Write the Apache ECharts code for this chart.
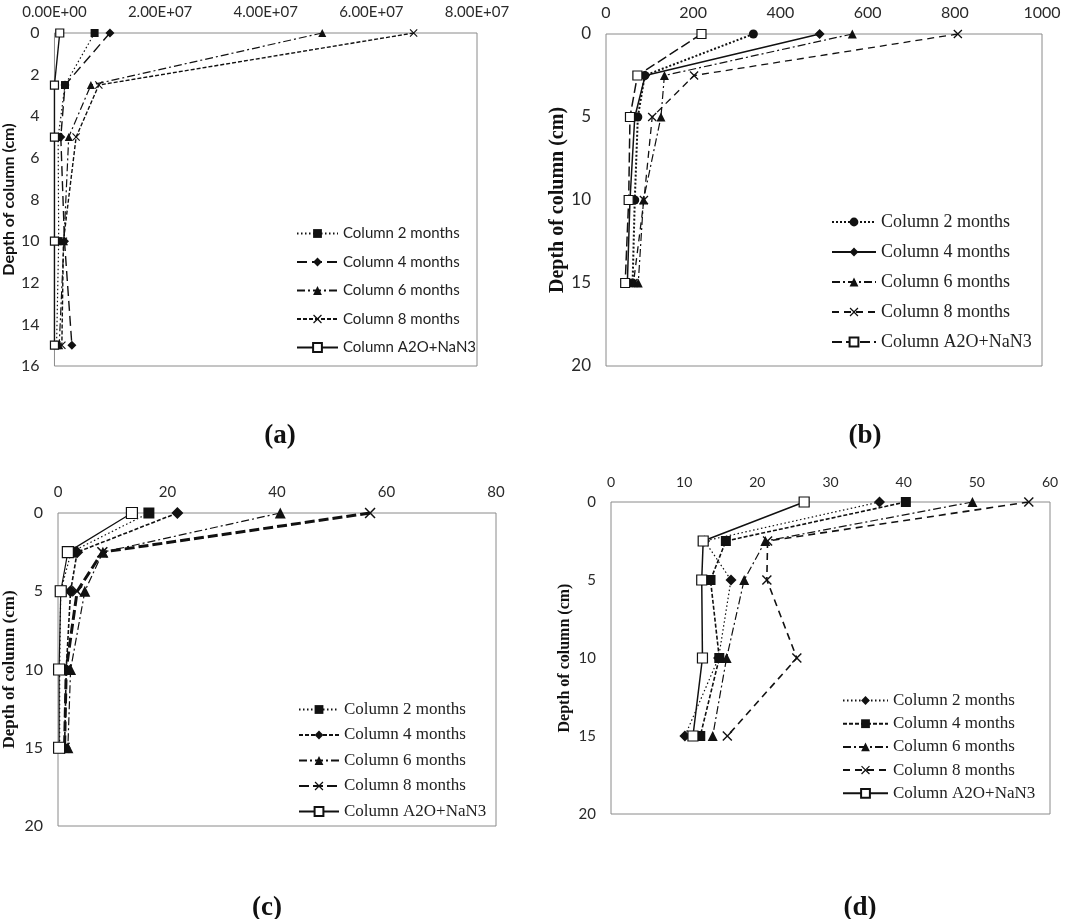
<!DOCTYPE html>
<html>
<head>
<meta charset="utf-8">
<script src="https://cdn.jsdelivr.net/npm/echarts@6/dist/echarts.min.js"></script>
<style>
  html, body { margin: 0; padding: 0; background: #fff; }
  #chart { width: 1080px; height: 919px; }
</style>
</head>
<body>
<div id="chart"></div>
<script>
// depth of the sampling points (cm), same for every panel
const depths = [0, 2.5, 5, 10, 15];
const seriesNames = ['Column 2 months', 'Column 4 months', 'Column 6 months', 'Column 8 months', 'Column A2O+NaN3'];

// panel (a): 2, 4, 6, 8 months, A2O+NaN3
const valuesA = [
  [7.6e6, 2.0e6, 0.7e6, 0.8e6, 0.4e6],
  [1.05e7, 2.0e6, 1.2e6, 1.9e6, 3.3e6],
  [5.07e7, 6.9e6, 2.7e6, 1.8e6, 0.9e6],
  [6.8e7, 8.4e6, 4.1e6, 1.7e6, 1.4e6],
  [1.0e6, 0, 0, 0, 0]
];
// panel (b)
const valuesB = [
  [338, 89, 73, 66, 61],
  [490, 90, 66, 55, 49],
  [565, 134, 126, 86, 74],
  [807, 202, 106, 87, 63],
  [219, 72, 55, 52, 44]
];
// panel (c)
const valuesC = [
  [16.6, 2.4, 0.5, 0.3, 0.3],
  [21.8, 3.5, 2.3, 1.5, 1.2],
  [40.6, 8.2, 4.9, 2.3, 1.8],
  [57.0, 8.1, 3.5, 1.5, 1.2],
  [13.5, 1.8, 0.5, 0.2, 0.2]
];
// panel (d)
const valuesD = [
  [36.7, 12.8, 16.4, 14.7, 10.1],
  [40.3, 15.7, 13.6, 14.8, 12.2],
  [49.4, 21.1, 18.2, 15.8, 13.9],
  [57.1, 21.4, 21.3, 25.4, 15.9],
  [26.4, 12.6, 12.4, 12.5, 11.2]
];

const xMax = [8e7, 1000, 80, 60];
const xStep = [2e7, 200, 20, 10];
const yMax = [16, 20, 20, 20];
const yStep = [2, 5, 5, 5];
const captions = ['(a)', '(b)', '(c)', '(d)'];

// layout + look of each panel
const X_SYM = 'path://M0,1L1,0L5,4L9,0L10,1L6,5L10,9L9,10L5,6L1,10L0,9L4,5Z';
const DOT = [1.5, 2.5], DASH = [6, 3], LDASH = [10, 5], DASHDOT = [8, 3, 2, 3];
const panels = [
  { values: valuesA, grid: { left: 46, top: 33, width: 431, height: 333 }, serif: false,
    symbols: ['rect', 'diamond', 'triangle', X_SYM, 'rect'], dashes: [DOT, LDASH, DASHDOT, [4, 2], 'solid'],
    widths: [1.2, 1.4, 1.2, 1.4, 1.4], symSize: 8,
    legend: { left: 291, top: 221, itemGap: 13.5, fontSize: 15, itemWidth: 41 },
    nameGap: 30, nameSize: 16, labelSize: 15, caption: [275, 431] },
  { values: valuesB, grid: { left: 606, top: 34, width: 436, height: 332 }, serif: true,
    symbols: ['circle', 'diamond', 'triangle', X_SYM, 'rect'], dashes: [[2, 2], 'solid', DASHDOT, [7, 5], [10, 4]],
    widths: [2, 1.5, 1.2, 1.3, 1.5], symSize: 9,
    legend: { left: 826, top: 208, itemGap: 12, fontSize: 18, itemWidth: 44 },
    nameGap: 38, nameSize: 20, labelSize: 16, caption: [860, 431] },
  { values: valuesC, grid: { left: 58, top: 513, width: 438, height: 313 }, serif: true,
    symbols: ['rect', 'diamond', 'triangle', X_SYM, 'rect'], dashes: [DOT, [4, 2], DASHDOT, [10, 4], 'solid'],
    widths: [1.2, 1.6, 1.2, 3, 1.2], symSize: 11,
    legend: { left: 293, top: 696, itemGap: 8.5, fontSize: 17, itemWidth: 40 },
    nameGap: 40, nameSize: 17, labelSize: 15, caption: [262, 903] },
  { values: valuesD, grid: { left: 611, top: 502, width: 439, height: 312 }, serif: true,
    symbols: ['diamond', 'rect', 'triangle', X_SYM, 'rect'], dashes: [DOT, [4, 2], DASHDOT, [7, 5], 'solid'],
    widths: [1.2, 1.6, 1.2, 1.6, 1.5], symSize: 10,
    legend: { left: 837, top: 687, itemGap: 6.2, fontSize: 17, itemWidth: 45 },
    nameGap: 38, nameSize: 16, labelSize: 14, caption: [855, 903] }
];

function sci(v) {
  if (v === 0) return '0.00E+00';
  const e = Math.floor(Math.log10(v));
  const m = v / Math.pow(10, e);
  return m.toFixed(2) + 'E+' + String(e).padStart(2, '0');
}

const grids = [], xAxes = [], yAxes = [], series = [], legends = [], titles = [];
panels.forEach((p, i) => {
  const font = p.serif ? 'Liberation Serif' : 'Lato';
  grids.push(Object.assign({ show: true, borderColor: '#8a8a8a', borderWidth: 1, backgroundColor: '#fff' }, p.grid));
  xAxes.push({
    gridIndex: i, type: 'value', position: 'top', min: 0, max: xMax[i], interval: xStep[i],
    axisLine: { show: false }, axisTick: { show: false }, splitLine: { show: false },
    axisLabel: { color: '#2a2a2a', fontFamily: 'Lato', fontSize: p.labelSize, margin: 13,
      formatter: i === 0 ? sci : (v => String(v)) }
  });
  yAxes.push({
    gridIndex: i, type: 'value', inverse: true, min: 0, max: yMax[i], interval: yStep[i],
    axisLine: { show: false }, axisTick: { show: false }, splitLine: { show: false },
    axisLabel: { color: '#2a2a2a', fontFamily: 'Lato', fontSize: p.labelSize + 1, margin: 15 },
    name: 'Depth of column (cm)', nameLocation: 'middle', nameGap: p.nameGap,
    nameTextStyle: { fontFamily: p.serif ? 'Liberation Serif' : 'Lato', fontWeight: 'bold',
      fontSize: p.nameSize, color: '#111' }
  });
  const names = [];
  p.values.forEach((vals, k) => {
    const name = captions[i] + '|' + seriesNames[k];
    names.push(name);
    const open = k === 4;
    series.push({
      name: name, type: 'line', xAxisIndex: i, yAxisIndex: i,
      data: vals.map((v, j) => [v, depths[j]]),
      symbol: p.symbols[k], symbolSize: p.symbols[k] === 'diamond' ? p.symSize + 1 : p.symSize,
      showAllSymbol: true,
      lineStyle: { color: '#111', width: p.widths[k], type: p.dashes[k] },
      itemStyle: { color: open ? '#fff' : '#111', borderColor: '#111', borderWidth: open ? 1.2 : 0 },
      emphasis: { disabled: true },
      animation: false
    });
  });
  legends.push({
    data: names, orient: 'vertical', left: p.legend.left, top: p.legend.top,
    itemWidth: p.legend.itemWidth, itemHeight: 11, itemGap: p.legend.itemGap,
    selectedMode: false,
    formatter: n => n.split('|')[1],
    textStyle: { fontFamily: font, fontSize: p.legend.fontSize, color: '#222' }
  });
  titles.push({
    text: captions[i], left: p.caption[0], top: p.caption[1], textAlign: 'center', textVerticalAlign: 'middle',
    textStyle: { fontFamily: 'Liberation Serif', fontWeight: 'bold', fontSize: 27, color: '#111' }
  });
});

const chart = echarts.init(document.getElementById('chart'));
chart.setOption({
  backgroundColor: '#fff',
  animation: false,
  title: titles,
  grid: grids,
  xAxis: xAxes,
  yAxis: yAxes,
  legend: legends,
  series: series
});
</script>
</body>
</html>
